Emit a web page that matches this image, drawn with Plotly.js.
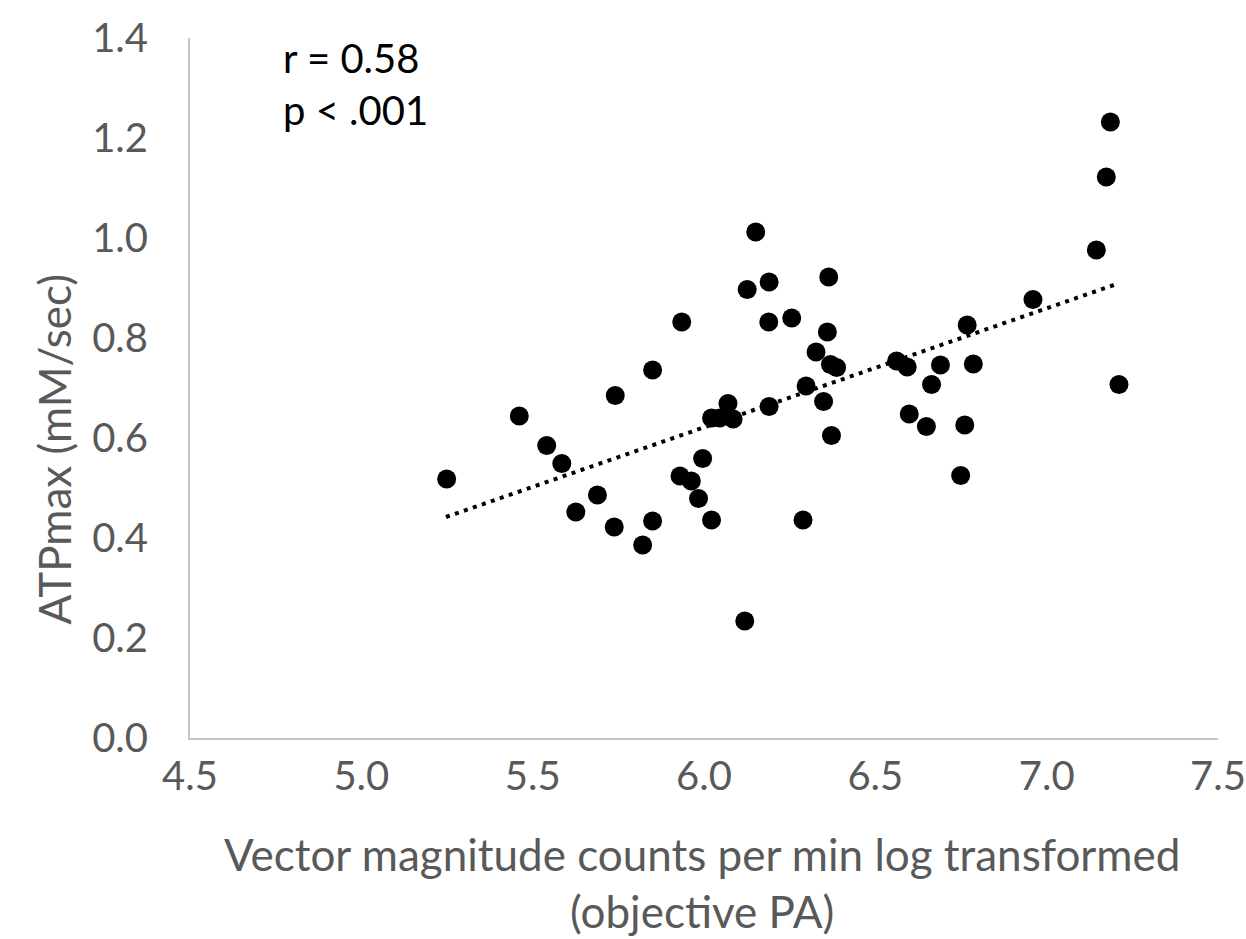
<!DOCTYPE html>
<html>
<head>
<meta charset="utf-8">
<script src="https://cdn.plot.ly/plotly-3.0.1.min.js"></script>
<style>html,body{margin:0;padding:0;background:#fff;}#chart{width:1246px;height:939px;}</style>
</head>
<body>
<div id="chart"></div>
<script>
// Objective PA (log vector magnitude counts per min)
const paLog = [
  5.249, 5.461, 5.541, 5.585, 5.626, 5.689, 5.741, 5.738, 5.821, 5.850,
  5.850, 5.935, 5.930, 5.963, 5.984, 5.996, 6.022, 6.022, 6.046, 6.085,
  6.070, 6.119, 6.126, 6.151, 6.190, 6.189, 6.190, 6.256, 6.289, 6.298,
  6.327, 6.349, 6.364, 6.360, 6.369, 6.387, 6.372, 6.562, 6.593, 6.599,
  6.649, 6.664, 6.690, 6.768, 6.761, 6.749, 6.786, 6.960, 7.145, 7.174,
  7.186, 7.211
];
// ATPmax (mM/sec)
const atpMax = [
  0.518, 0.644, 0.585, 0.549, 0.452, 0.486, 0.685, 0.422, 0.386, 0.736,
  0.434, 0.832, 0.524, 0.514, 0.479, 0.559, 0.436, 0.640, 0.640, 0.638,
  0.669, 0.234, 0.897, 1.012, 0.912, 0.832, 0.663, 0.840, 0.436, 0.704,
  0.772, 0.673, 0.922, 0.812, 0.747, 0.741, 0.605, 0.754, 0.742, 0.648,
  0.623, 0.707, 0.746, 0.826, 0.626, 0.525, 0.748, 0.877, 0.976, 1.122,
  1.232, 0.707
];
// Linear trendline endpoints
const trendX = [5.247, 7.196];
const trendY = [0.442, 0.906];

const statLines = ["r = 0.58", "p &lt; .001"];
const xTitleLines = ["Vector magnitude counts per min log transformed", "(objective PA)"];
const yTitle = "ATPmax (mM/sec)";

const FONT = "Lato, 'Open Sans', sans-serif";
const GRAY = "#595959";

const data = [
  {
    x: paLog, y: atpMax, type: "scatter", mode: "markers",
    marker: {color: "#000000", size: 19, line: {width: 0}},
    hoverinfo: "x+y"
  },
  {
    x: trendX, y: trendY, type: "scatter", mode: "lines",
    line: {color: "#000000", width: 4, dash: "4px,5.5px"},
    hoverinfo: "skip"
  }
];

const layout = {
  width: 1246, height: 939,
  paper_bgcolor: "#ffffff", plot_bgcolor: "#ffffff",
  showlegend: false,
  margin: {l: 190, r: 28, t: 38, b: 201, pad: 0},
  font: {family: FONT, color: GRAY, size: 40},
  xaxis: {
    range: [4.5, 7.5], dtick: 0.5, tick0: 4.5, tickformat: ".1f",
    showgrid: false, zeroline: false,
    showline: true, linecolor: "#c4c4c4", linewidth: 2,
    ticks: "", ticklabelstandoff: 2,
    tickfont: {family: FONT, size: 40, color: GRAY},
    fixedrange: true
  },
  yaxis: {
    range: [0, 1.4], dtick: 0.2, tick0: 0, tickformat: ".1f",
    showgrid: false, zeroline: false,
    showline: true, linecolor: "#c4c4c4", linewidth: 2,
    ticks: "", ticklabelstandoff: 32,
    tickfont: {family: FONT, size: 40, color: GRAY},
    fixedrange: true
  },
  annotations: [
    {xref: "paper", yref: "paper", x: 0.0885, y: 0.972, xanchor: "left", yanchor: "middle",
     text: statLines[0], showarrow: false, font: {family: FONT, size: 40, color: "#000000"}},
    {xref: "paper", yref: "paper", x: 0.0885, y: 0.897, xanchor: "left", yanchor: "middle",
     text: statLines[1], showarrow: false, font: {family: FONT, size: 40, color: "#000000"}},
    {xref: "paper", yref: "paper", x: 0.498, y: -0.2071, xanchor: "center", yanchor: "middle",
     text: xTitleLines.join("<br>"), showarrow: false, font: {family: FONT, size: 44, color: GRAY}},
    {xref: "paper", yref: "paper", x: -0.1325, y: 0.412, xanchor: "center", yanchor: "middle",
     textangle: -90, text: yTitle, showarrow: false, font: {family: FONT, size: 44, color: GRAY}}
  ]
};

Plotly.newPlot("chart", data, layout, {displayModeBar: false, staticPlot: true});
</script>
</body>
</html>
